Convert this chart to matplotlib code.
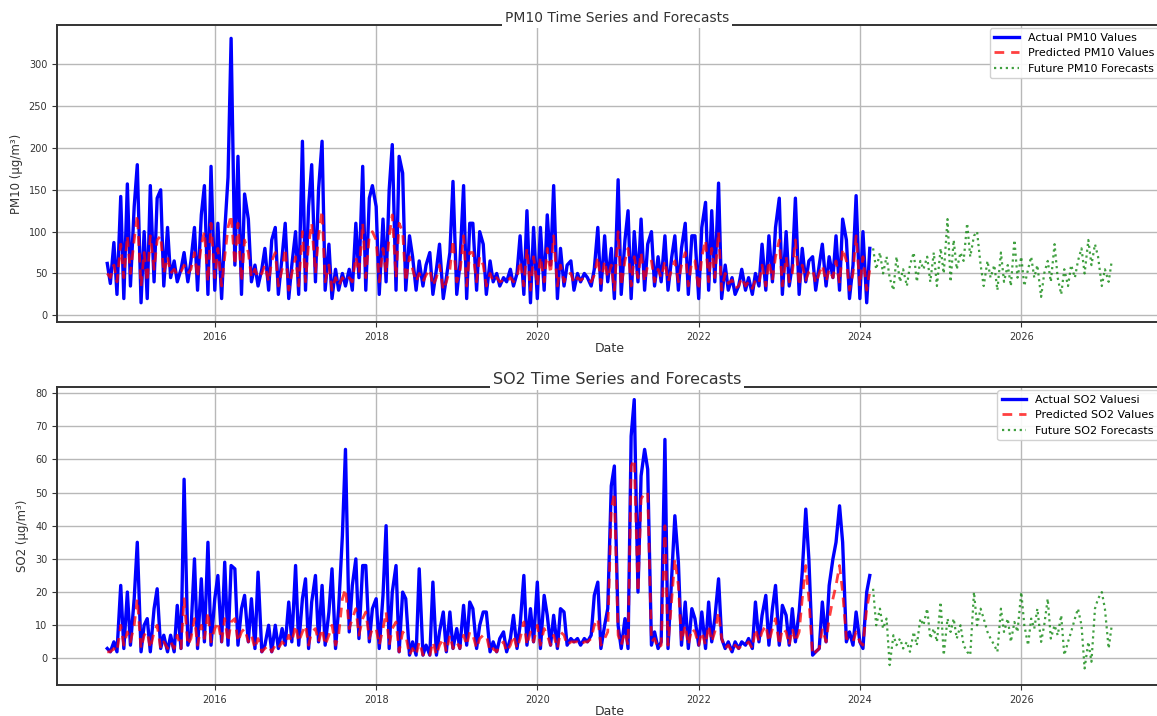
import numpy as np
import pandas as pd
import matplotlib
matplotlib.use("Agg")
import matplotlib.pyplot as plt
import matplotlib.dates as mdates

# values, two per month (1st and 15th)
actual_start = "2014-09-01"
future_start = "2024-03-01"

pm10_actual = [
    62, 38, 87, 25, 142, 20, 157, 35,  # 2014 Sep-Dec
    130, 180, 15, 100, 20, 155, 40, 140, 150, 35, 105, 45, 65, 40, 55, 75, 40, 65, 105, 30, 120, 155, 25, 178,  # 2015
    30, 110, 20, 100, 165, 331, 60, 190, 25, 145, 115, 40, 60, 35, 55, 80, 30, 90, 105, 25, 70, 110, 20, 60,  # 2016
    100, 25, 208, 30, 130, 180, 40, 150, 208, 30, 85, 20, 55, 30, 50, 35, 55, 30, 110, 45, 178, 30, 140, 155,  # 2017
    130, 25, 115, 40, 150, 204, 30, 190, 170, 30, 95, 70, 30, 65, 35, 60, 75, 25, 55, 85, 20, 45, 75, 160,  # 2018
    25, 60, 155, 20, 110, 110, 30, 100, 85, 25, 65, 40, 50, 35, 45, 40, 55, 35, 50, 95, 25, 125, 15, 105,  # 2019
    20, 105, 30, 120, 60, 155, 20, 80, 35, 60, 65, 30, 50, 40, 50, 45, 35, 55, 105, 30, 95, 40, 80, 20,  # 2020
    162, 25, 90, 125, 20, 100, 40, 115, 30, 85, 100, 35, 70, 40, 95, 30, 70, 95, 30, 80, 110, 25, 95, 95,  # 2021
    20, 105, 135, 30, 125, 40, 158, 20, 60, 30, 45, 25, 35, 55, 30, 45, 25, 50, 35, 85, 30, 95, 40, 105,  # 2022
    140, 25, 100, 35, 60, 140, 25, 80, 40, 65, 70, 30, 60, 85, 35, 70, 45, 95, 30, 115, 90, 20, 60, 143,  # 2023
    20, 100, 15, 80,  # 2024 Jan-Feb
]
pm10_pred = [
    50, 45, 60, 40, 85, 45, 95, 50,
    90, 120, 35, 75, 40, 95, 55, 90, 95, 50, 70, 50, 55, 48, 52, 60, 50, 55, 75, 45, 85, 100, 40, 110,
    45, 80, 35, 70, 105, 120, 60, 110, 40, 90, 75, 45, 55, 45, 50, 60, 40, 65, 75, 35, 55, 80, 30, 50,
    70, 35, 100, 40, 85, 110, 50, 95, 125, 40, 60, 30, 45, 35, 45, 40, 45, 40, 70, 50, 110, 45, 95, 100,
    90, 40, 80, 50, 95, 120, 45, 110, 100, 40, 70, 55, 40, 50, 40, 48, 55, 35, 45, 60, 30, 40, 55, 90,
    40, 50, 95, 35, 75, 75, 40, 70, 60, 35, 50, 40, 45, 40, 42, 40, 45, 40, 45, 65, 35, 80, 30, 70,
    35, 70, 40, 80, 50, 95, 35, 60, 40, 50, 50, 38, 45, 42, 45, 43, 40, 48, 70, 38, 65, 45, 60, 30,
    100, 35, 65, 80, 35, 70, 45, 75, 40, 60, 65, 40, 55, 45, 65, 40, 55, 65, 40, 60, 75, 35, 65, 65,
    30, 70, 90, 40, 80, 45, 100, 30, 50, 38, 42, 32, 35, 45, 35, 40, 32, 42, 38, 60, 35, 65, 42, 70,
    90, 35, 70, 40, 50, 90, 35, 60, 42, 52, 55, 38, 50, 60, 40, 55, 45, 65, 38, 80, 65, 30, 50, 95,
    35, 70, 30, 55,
]
pm10_future = [
    80, 55, 75, 50, 70, 45, 30, 70, 40, 55, 35, 60, 75, 40, 65, 55, 70, 40, 75, 35,  # 2024 Mar-Dec
    80, 50, 115, 40, 90, 55, 75, 65, 110, 70, 95, 100, 60, 35, 65, 45, 60, 30, 75, 40, 60, 35, 90, 45,  # 2025
    70, 35, 55, 70, 45, 60, 22, 50, 65, 40, 85, 45, 25, 55, 35, 60, 45, 65, 80, 50, 90, 60, 85, 70,  # 2026
    35, 55, 40, 65,  # 2027 Jan-Feb
]

so2_actual = [
    3, 2, 5, 2, 22, 3, 20, 4,
    18, 35, 2, 10, 12, 2, 15, 21, 3, 7, 2, 7, 2, 16, 3, 54, 4, 8, 30, 3, 24, 5, 35, 4,
    18, 25, 5, 29, 4, 28, 27, 4, 15, 19, 5, 18, 3, 26, 2, 4, 10, 2, 10, 3, 9, 4, 17, 5,
    28, 4, 18, 24, 3, 17, 25, 5, 22, 4, 14, 27, 3, 15, 37, 63, 8, 22, 30, 6, 28, 28, 5, 15,
    18, 3, 19, 40, 3, 20, 28, 2, 20, 18, 1, 5, 1, 27, 1, 4, 1, 23, 1, 8, 14, 2, 14, 3,
    9, 3, 16, 4, 17, 15, 3, 10, 14, 14, 2, 5, 2, 6, 8, 2, 6, 13, 3, 10, 25, 4, 15, 5,
    23, 3, 19, 13, 4, 13, 3, 15, 14, 4, 6, 5, 6, 4, 6, 5, 7, 19, 23, 3, 10, 15, 52, 58,
    10, 3, 12, 3, 67, 78, 20, 55, 63, 57, 4, 8, 3, 5, 66, 3, 25, 43, 29, 4, 17, 3, 15, 12,
    4, 14, 3, 17, 5, 12, 24, 6, 3, 5, 2, 5, 3, 5, 4, 6, 3, 17, 5, 13, 19, 4, 15, 22,
    4, 16, 13, 4, 15, 5, 14, 26, 45, 30, 1, 2, 3, 17, 5, 22, 30, 35, 46, 35, 5, 8, 4, 14,
    5, 3, 20, 25,
]
so2_pred = [
    2, 2, 3, 2, 10, 4, 8, 5,
    10, 18, 3, 7, 8, 3, 8, 10, 3, 5, 3, 5, 3, 7, 3, 18, 4, 6, 12, 4, 10, 6, 14, 5,
    9, 11, 5, 12, 5, 11, 12, 5, 8, 9, 5, 7, 3, 6, 2, 3, 4, 2, 4, 3, 5, 4, 7, 5,
    10, 5, 8, 10, 4, 8, 9, 5, 9, 4, 7, 10, 4, 7, 18, 21, 9, 12, 15, 7, 12, 14, 6, 9,
    9, 4, 9, 14, 4, 9, 11, 2, 8, 7, 1, 3, 1, 5, 1, 2, 1, 5, 1, 4, 6, 2, 7, 3,
    5, 3, 7, 4, 8, 7, 3, 6, 7, 7, 2, 3, 2, 4, 5, 2, 4, 7, 3, 6, 11, 4, 8, 5,
    10, 4, 9, 7, 4, 7, 3, 8, 7, 4, 5, 5, 5, 4, 5, 5, 6, 10, 12, 4, 6, 8, 45, 50,
    7, 4, 8, 4, 58, 60, 20, 48, 50, 50, 5, 6, 3, 4, 40, 4, 18, 30, 22, 5, 10, 4, 9, 8,
    4, 8, 4, 10, 5, 8, 14, 6, 3, 4, 2, 4, 3, 4, 4, 5, 3, 9, 5, 8, 10, 5, 9, 12,
    4, 9, 8, 4, 9, 5, 8, 18, 28, 18, 1, 2, 3, 9, 5, 12, 18, 22, 28, 20, 6, 6, 5, 8,
    5, 4, 15, 20,
]
so2_future = [
    21, 10, 15, 9, 12, -2, 7, 4, 6, 3, 5, 2, 8, 4, 12, 10, 15, 6, 9, 5,
    17, 1, 12, 8, 12, 6, 10, 4, 2, 1, 20, 10, 15, 12, 8, 6, 4, 2, 15, 8, 12, 5, 11, 8,
    20, 10, 4, 12, 9, 15, 5, 10, 18, 6, 10, 7, 13, 1, 5, 8, 12, 15, 10, -3, 5, -1, 15, 18,
    20, 15, 3, 10,
]

panels = [
    ("PM10", pm10_actual, pm10_pred, pm10_future, "Actual PM10 Values", range(0, 301, 50), 10),
    ("SO2", so2_actual, so2_pred, so2_future, "Actual SO2 Valuesi", range(0, 81, 10), 11.5),
]

fig = plt.figure(figsize=(11.57, 7.16), dpi=100)
axes = [fig.add_axes([0.0493, 0.5503, 0.955, 0.4148]),
        fig.add_axes([0.0493, 0.0433, 0.955, 0.4162])]

for ax, (name, act, pred, fut, act_label, yticks, tsize) in zip(axes, panels):
    d_act = pd.date_range(actual_start, periods=len(act), freq="SMS")
    d_fut = pd.date_range(future_start, periods=len(fut), freq="SMS")
    ax.plot(d_act, act, color="blue", lw=2.4, label=act_label)
    ax.plot(d_act, pred, color="red", lw=2.0, ls=(0, (3.5, 2.5)), alpha=0.75,
            label=f"Predicted {name} Values")
    ax.plot(d_fut, fut, color="green", lw=1.6, ls=":", alpha=0.75,
            label=f"Future {name} Forecasts")
    ax.set_yticks(list(yticks))
    ax.xaxis.set_major_locator(mdates.YearLocator(2))
    ax.xaxis.set_major_formatter(mdates.DateFormatter("%Y"))
    ax.tick_params(labelsize=7, colors="#333333")
    ax.grid(True, color="#b8b8b8", lw=1)
    for s in ax.spines.values():
        s.set_color("#333333")
        s.set_linewidth(1.4)
    ax.set_xlabel("Date", fontsize=9, labelpad=0, color="#333333")
    ax.set_ylabel(f"{name} (µg/m³)", fontsize=8.5, color="#333333")
    ax.text(0.507, 1.0, f"{name} Time Series and Forecasts", transform=ax.transAxes,
            ha="center", va="bottom", fontsize=tsize, color="#333333",
            bbox=dict(fc="white", ec="none", pad=2))
    ax.legend(loc="upper right", fontsize=8, framealpha=0.9, borderaxespad=0.3,
              handlelength=2.2)

axes[0].set_ylim(-8, 347)
axes[1].set_ylim(-8, 81.8)

fig.savefig("out.png", dpi=100)
